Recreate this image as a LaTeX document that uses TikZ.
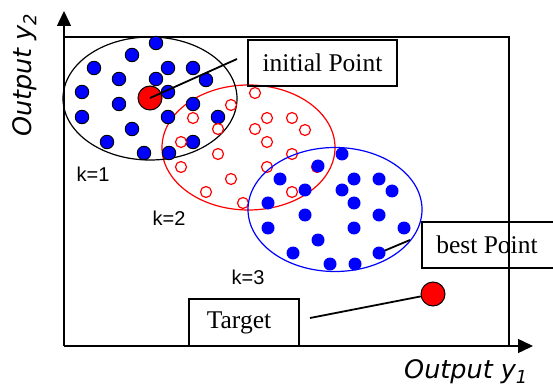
\documentclass[tikz,border=0pt]{standalone}
\usepackage{fontspec}
\setmainfont{Liberation Serif}
\newfontfamily\arialf{Liberation Sans}
\newfontfamily\outf{DejaVu Sans}
\usetikzlibrary{arrows.meta}
\tikzset{
  bdot/.style={circle,fill=blue,draw=black,line width=0.9pt,inner sep=0pt,minimum size=13.5pt},
  bdotp/.style={circle,fill=blue,draw=none,inner sep=0pt,minimum size=13pt},
  rcirc/.style={circle,fill=white,draw=red,line width=1.2pt,inner sep=0pt,minimum size=11pt},
  bigred/.style={circle,fill=red,draw=black,line width=1pt,inner sep=0pt,minimum size=24pt},
  labbox/.style={draw=black,line width=2pt,inner sep=0pt,font=\fontsize{25.5}{28}\selectfont},
  klab/.style={font=\arialf\fontsize{20}{22}\selectfont},
  axlab/.style={font=\outf\itshape\fontsize{25.5}{28}\selectfont},
  conn/.style={line width=1.8pt,draw=black},
  axis/.style={line width=1.4pt,-{Triangle[length=15pt,width=14pt]}},
}
\begin{document}
\begin{tikzpicture}[x=1pt,y=-1pt]
\useasboundingbox (0,0) rectangle (553,387);
% frame
\draw[line width=1.2pt] (64,37) -- (509,37) -- (509,346);
\coordinate (O) at (64,346);
\coordinate (ytop) at (64,11);
\coordinate (xend) at (533,346);
\draw[axis] (O) -- (ytop);
\draw[axis] (O) -- (xend);
% ellipses
\draw[red,line width=1.2pt] (248.5,147.5) ellipse [x radius=86.5pt, y radius=62.5pt];
\draw[black,line width=1.2pt] (150,98.5) ellipse [x radius=87pt, y radius=61.5pt];
% cluster k=1
\foreach \x/\y [count=\i] in {156/43,132/55,94/68,168/68,193/68,119/79,156/79,206/80,82/92,168/92,119/104,193/104,82/117,168/117,218/117,132/129,107/142,193/142,144/153,169/153}{
  \node[bdot] (a\i) at (\x,\y) {};
}
% cluster k=2
\foreach \x/\y [count=\i] in {156/43,132/55,94/68,168/68,193/68,119/79,156/79,206/80,82/92,168/92,119/104,193/104,82/117,168/117,218/117,132/129,107/142,193/142,144/153,169/153}{
  \node[rcirc] (r\i) at (\x+99,\y+50) {};
}
% blue ellipse
\draw[blue,line width=1.2pt] (335,209.5) ellipse [x radius=87pt, y radius=62pt];
% best point connector (below dots)
\coordinate (bestend) at (410,240);
\coordinate (bestsrc) at (379,253);
\draw[conn] (bestsrc) -- (bestend);
% cluster k=3
\foreach \x/\y [count=\i] in {156/43,132/55,94/68,168/68,193/68,119/79,156/79,206/80,82/92,168/92,119/104,193/104,82/117,168/117,218/117,132/129,107/142,193/142,144/153,169/153}{
  \node[bdotp] (c\i) at (\x+186,\y+111) {};
}
% initial point
\node[bigred] (init) at (150,98) {};
\coordinate (initend) at (237,59);
\draw[conn] (init.center) -- (initend);
\node[labbox,minimum width=149pt,minimum height=46pt] (initbox) at (322.5,63) {initial Point};
% best point box
\node[labbox,minimum width=136pt,minimum height=46pt] (bestbox) at (490,245) {\hspace*{-6pt}best Point};
% target
\coordinate (targetend) at (310,318);
\node[bigred] (target) at (433,294) {};
\draw[conn] (targetend) -- (target);
\node[labbox,minimum width=110pt,minimum height=47pt] (targetbox) at (244,322.5) {\hspace*{-10pt}Target};
% k labels
\node[klab] (k1) at (93,174) {k=1};
\node[klab] (k2) at (169,218) {k=2};
\node[klab] (k3) at (248,277) {k=3};
% axis labels
\node[axlab,rotate=90] (ylab) at (25,75) {Output y\textsubscript{2}};
\node[axlab] (xlab) at (466,372) {Output y\textsubscript{1}};
\end{tikzpicture}
\end{document}
